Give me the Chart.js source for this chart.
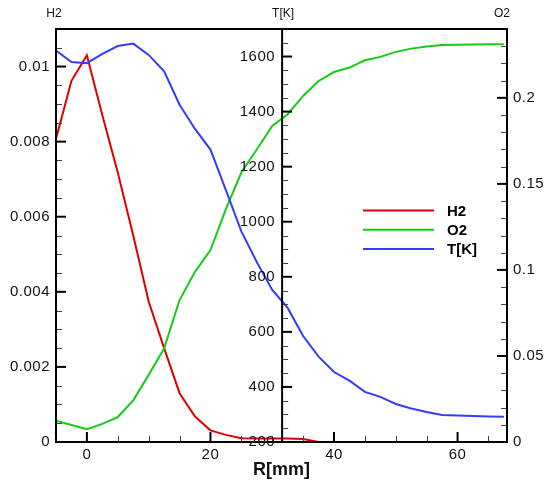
<!DOCTYPE html>
<html>
<head>
<meta charset="utf-8">
<script src="https://cdn.jsdelivr.net/npm/chart.js@4.4.1/dist/chart.umd.min.js"></script>
<style>
  html, body { margin: 0; padding: 0; background: #fff; }
  canvas { display: block; }
</style>
</head>
<body>
<canvas id="profile" width="550" height="484"></canvas>
<script>
// radial profiles, one sample every 2.5 mm
const radius = [-5, -2.5, 0, 2.5, 5, 7.5, 10, 12.5, 15, 17.5, 20, 22.5, 25, 27.5, 30,
    32.5, 35, 37.5, 40, 42.5, 45, 47.5, 50, 52.5, 55, 57.5, 60, 62.5, 65, 67.5];
const h2 = [0.00807, 0.00962, 0.0103, 0.0087, 0.00718, 0.0055, 0.00374, 0.0025, 0.0013, 0.00068,
    0.00031, 0.00019, 0.0001, 0.00009, 0.00009, 0.00009, 0.00008, 0,
    null, null, null, null, null, null, null, null, null, null, null, null];
const o2 = [0.0124, 0.0099, 0.0075, 0.0105, 0.0145, 0.0242, 0.039, 0.0544, 0.0825, 0.0989,
    0.1115, 0.1353, 0.1566, 0.170, 0.1837, 0.1905, 0.2011, 0.2098, 0.215, 0.2176,
    0.2218, 0.2238, 0.2267, 0.2286, 0.2298, 0.2307, 0.2309, 0.231, 0.2311, 0.2311];
const temperature = [1622, 1580, 1576, 1610, 1638, 1647, 1606, 1546, 1425, 1337,
    1262, 1115, 965, 854, 752, 687, 585, 510, 454, 423,
    382, 364, 338, 322, 309, 298, 296, 294, 293, 292];

const xTicks = [0, 20, 40, 60];
const h2Ticks = [0, 0.002, 0.004, 0.006, 0.008, 0.01];
const h2TickLabels = ['0', '0.002', '0.004', '0.006', '0.008', '0.01'];
const tTicks = [200, 400, 600, 800, 1000, 1200, 1400, 1600];
const o2Ticks = [0, 0.05, 0.1, 0.15, 0.2];
const o2TickLabels = ['0', '0.05', '0.1', '0.15', '0.2'];

const T_AXIS_AT = 31.6; // R where the temperature axis sits
const FONT = '"Liberation Sans", Arial, sans-serif';

function series(values) {
    return radius.map((r, i) => ({ x: r, y: values[i] }));
}

function minorValues(min, max, step, majors) {
    const out = [];
    const n = Math.round((max - min) / step);
    for (let i = 0; i <= n; i++) {
        const v = +(min + i * step).toFixed(6);
        if (!majors.some(m => Math.abs(m - v) < step / 10)) out.push(v);
    }
    return out;
}

const axesPlugin = {
    id: 'frameAxes',
    afterDraw(chart) {
        const { ctx, chartArea: area, scales } = chart;
        const sx = scales.x, sH2 = scales.yH2, sT = scales.yT, sO2 = scales.yO2;
        const midX = sx.getPixelForValue(T_AXIS_AT);
        const line = (x1, y1, x2, y2) => {
            ctx.beginPath(); ctx.moveTo(x1, y1); ctx.lineTo(x2, y2); ctx.stroke();
        };
        ctx.save();

        // minor ticks
        ctx.strokeStyle = '#444';
        ctx.lineWidth = 1;
        minorValues(-5, 65, 5, xTicks).forEach(v => {
            const px = Math.round(sx.getPixelForValue(v)) + 0.5;
            line(px, area.bottom, px, area.bottom - 6);
        });
        minorValues(0, 0.0105, 0.0005, h2Ticks).forEach(v => {
            const py = Math.round(sH2.getPixelForValue(v)) + 0.5;
            line(area.left, py, area.left + 6, py);
        });
        minorValues(250, 1650, 50, tTicks).forEach(v => {
            const py = Math.round(sT.getPixelForValue(v)) + 0.5;
            line(midX, py, midX + 6, py);
        });
        minorValues(0, 0.23, 0.01, o2Ticks).forEach(v => {
            const py = Math.round(sO2.getPixelForValue(v)) + 0.5;
            line(area.right, py, area.right - 6, py);
        });

        // major ticks
        ctx.strokeStyle = '#000';
        ctx.lineWidth = 2;
        xTicks.forEach(v => {
            const px = sx.getPixelForValue(v);
            line(px, area.bottom, px, area.bottom - 10);
        });
        h2Ticks.forEach(v => {
            const py = sH2.getPixelForValue(v);
            line(area.left, py, area.left + 10, py);
        });
        tTicks.forEach(v => {
            const py = sT.getPixelForValue(v);
            line(midX, py, midX + 10, py);
        });
        o2Ticks.forEach(v => {
            const py = sO2.getPixelForValue(v);
            line(area.right, py, area.right - 10, py);
        });

        // frame and the inner temperature axis
        ctx.strokeRect(area.left, area.top, area.right - area.left, area.bottom - area.top);
        line(midX, area.top, midX, area.bottom);

        // tick labels
        ctx.fillStyle = '#111';
        ctx.font = '15px ' + FONT;
        ctx.letterSpacing = '0.5px';
        ctx.textBaseline = 'middle';
        ctx.textAlign = 'right';
        h2Ticks.forEach((v, i) => ctx.fillText(h2TickLabels[i], area.left - 6, sH2.getPixelForValue(v)));
        tTicks.forEach(v => ctx.fillText(String(v), midX - 7, sT.getPixelForValue(v)));
        ctx.textAlign = 'left';
        o2Ticks.forEach((v, i) => ctx.fillText(o2TickLabels[i], area.right + 6, sO2.getPixelForValue(v)));
        ctx.textAlign = 'center';
        ctx.textBaseline = 'top';
        xTicks.forEach(v => ctx.fillText(String(v), sx.getPixelForValue(v), area.bottom + 5));
        ctx.letterSpacing = '0px';

        // axis titles
        ctx.font = '12px ' + FONT;
        ctx.textBaseline = 'middle';
        ctx.fillText('H2', area.left - 2, 14);
        ctx.fillText('T[K]', midX + 1, 14);
        ctx.fillText('O2', area.right - 5, 14);
        ctx.font = 'bold 18px ' + FONT;
        ctx.fillText('R[mm]', (area.left + area.right) / 2, 470);

        // legend
        ctx.font = 'bold 15px ' + FONT;
        ctx.textAlign = 'left';
        chart.data.datasets.forEach((ds, i) => {
            const y = 210.5 + i * 19.3;
            ctx.strokeStyle = ds.borderColor;
            ctx.lineWidth = 2;
            line(363, y, 434, y);
            ctx.fillStyle = '#000';
            ctx.fillText(ds.label, 447, y + 1);
        });
        ctx.restore();
    }
};

const lineStyle = { borderWidth: 2, pointRadius: 0, tension: 0, fill: false, spanGaps: false };

new Chart(document.getElementById('profile'), {
    type: 'line',
    data: {
        datasets: [
            { label: 'H2', data: series(h2), yAxisID: 'yH2', borderColor: 'rgb(222, 0, 0)', order: 3, ...lineStyle },
            { label: 'O2', data: series(o2), yAxisID: 'yO2', borderColor: 'rgb(20, 205, 20)', order: 2, ...lineStyle },
            { label: 'T[K]', data: series(temperature), yAxisID: 'yT', borderColor: 'rgb(50, 60, 255)', order: 1, ...lineStyle }
        ]
    },
    options: {
        responsive: false,
        animation: false,
        devicePixelRatio: 1,
        layout: { padding: { left: 56, top: 29, right: 43, bottom: 42 } },
        scales: {
            x: { type: 'linear', min: -5, max: 68, display: false },
            yH2: { type: 'linear', min: 0, max: 0.011, display: false },
            yT: { type: 'linear', min: 200, max: 1700, display: false },
            yO2: { type: 'linear', min: 0, max: 0.24, display: false }
        },
        plugins: {
            legend: { display: false },
            tooltip: { enabled: false }
        }
    },
    plugins: [axesPlugin]
});
</script>
</body>
</html>
